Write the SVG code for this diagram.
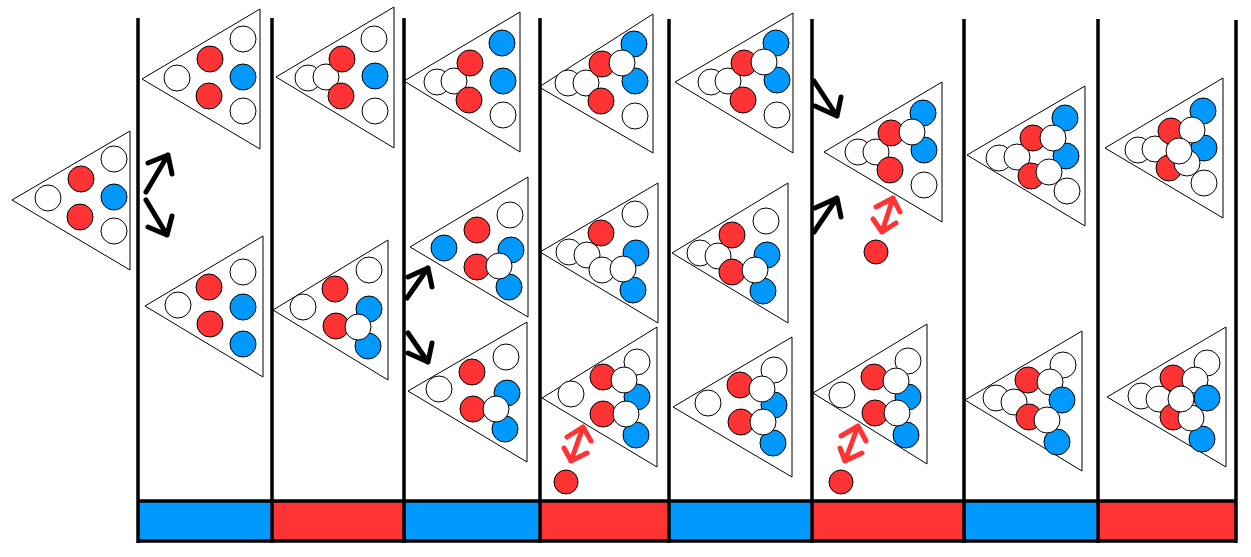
<svg xmlns="http://www.w3.org/2000/svg" width="1251" height="557" viewBox="0 0 1251 557">
<style>
circle{stroke:#000;stroke-width:1}
.r{fill:#ff3333}.b{fill:#0099ff}.w{fill:#fff}
.tri{fill:none;stroke:#000;stroke-width:1}
.col{stroke:#000;stroke-width:3.5;fill:none}
.ka{stroke:#000;stroke-width:5;fill:none;stroke-linecap:round;stroke-linejoin:round}
.ra{stroke:#ff3333;stroke-width:5;fill:none;stroke-linecap:round;stroke-linejoin:round}
</style>
<rect width="1251" height="557" fill="#fff"/>
<g id="bar">
<rect x="138" y="501" width="134" height="40" class="b" style="stroke:none"/>
<rect x="272" y="501" width="132" height="40" class="r" style="stroke:none"/>
<rect x="404" y="501" width="136" height="40" class="b" style="stroke:none"/>
<rect x="540" y="501" width="129" height="40" class="r" style="stroke:none"/>
<rect x="669" y="501" width="143" height="40" class="b" style="stroke:none"/>
<rect x="812" y="501" width="152" height="40" class="r" style="stroke:none"/>
<rect x="964" y="501" width="134" height="40" class="b" style="stroke:none"/>
<rect x="1098" y="501" width="138" height="40" class="r" style="stroke:none"/>
<line class="col" x1="137" y1="501" x2="1237" y2="501"/>
<line class="col" x1="137" y1="541" x2="1237" y2="541"/>
</g>
<g id="columns">
<line class="col" x1="138" y1="18" x2="138" y2="543"/>
<line class="col" x1="272" y1="18" x2="272" y2="543"/>
<line class="col" x1="404" y1="18" x2="404" y2="543"/>
<line class="col" x1="540" y1="18" x2="540" y2="543"/>
<line class="col" x1="669" y1="19" x2="669" y2="543"/>
<line class="col" x1="812" y1="19" x2="812" y2="543"/>
<line class="col" x1="964" y1="19" x2="964" y2="543"/>
<line class="col" x1="1098" y1="19" x2="1098" y2="543"/>
<line class="col" x1="1236" y1="20" x2="1236" y2="543"/>
</g>
<g id="start">
<polygon class="tri" points="12,200 130,131 130,270"/>
<circle class="w" cx="48" cy="198" r="13"/><circle class="r" cx="81" cy="179" r="13"/><circle class="r" cx="80" cy="217" r="13"/>
<circle class="w" cx="114" cy="159" r="13"/><circle class="b" cx="114" cy="197" r="13"/><circle class="w" cx="114" cy="231" r="13"/>
</g>
<g id="c1-top">
<polygon class="tri" points="142,79 260,9 260,149"/>
<circle class="w" cx="177" cy="78" r="13"/><circle class="r" cx="210" cy="59" r="13"/><circle class="r" cx="209" cy="96" r="13"/>
<circle class="w" cx="243" cy="39" r="13"/><circle class="b" cx="243" cy="77" r="13"/><circle class="w" cx="243" cy="111" r="13"/>
</g>
<g id="c1-bottom">
<polygon class="tri" points="145,306 263,236 263,377"/>
<circle class="w" cx="178" cy="305" r="13"/><circle class="r" cx="209" cy="287" r="13"/><circle class="r" cx="210" cy="324" r="13"/>
<circle class="w" cx="243" cy="272" r="13"/><circle class="b" cx="243" cy="307" r="13"/><circle class="b" cx="243" cy="344" r="13"/>
</g>
<g id="c2-top">
<polygon class="tri" points="276,77 394,7 394,148"/>
<circle class="w" cx="308" cy="78" r="13"/><circle class="w" cx="326" cy="77" r="13"/><circle class="r" cx="342" cy="59" r="13"/><circle class="r" cx="341" cy="96" r="13"/>
<circle class="w" cx="374" cy="39" r="13"/><circle class="b" cx="375" cy="76" r="13"/><circle class="w" cx="375" cy="111" r="13"/>
</g>
<g id="c2-bottom">
<polygon class="tri" points="273,310 388,240 388,380"/>
<circle class="w" cx="303" cy="307" r="13"/><circle class="r" cx="335" cy="289" r="13"/><circle class="w" cx="369" cy="270" r="13"/>
<circle class="b" cx="369" cy="309" r="13"/><circle class="r" cx="336" cy="326" r="13"/><circle class="b" cx="368" cy="346" r="13"/><circle class="w" cx="358" cy="327" r="13"/>
</g>
<g id="c3-top">
<polygon class="tri" points="404,81 520,12 520,152"/>
<circle class="w" cx="437" cy="82" r="13"/><circle class="w" cx="454" cy="81" r="13"/><circle class="r" cx="470" cy="63" r="13"/><circle class="r" cx="469" cy="100" r="13"/>
<circle class="b" cx="502" cy="43" r="13"/><circle class="b" cx="503" cy="81" r="13"/><circle class="w" cx="503" cy="115" r="13"/>
</g>
<g id="c3-middle">
<polygon class="tri" points="410,247 528,177 528,317"/>
<circle class="b" cx="444" cy="248" r="13"/><circle class="r" cx="477" cy="230" r="13"/><circle class="w" cx="510" cy="215" r="13"/>
<circle class="b" cx="511" cy="250" r="13"/><circle class="r" cx="477" cy="267" r="13"/><circle class="b" cx="509" cy="287" r="13"/><circle class="w" cx="499" cy="266" r="13"/>
</g>
<g id="c3-bottom">
<polygon class="tri" points="408,391 527,322 527,462"/>
<circle class="w" cx="439" cy="389" r="13"/><circle class="r" cx="472" cy="372" r="13"/><circle class="w" cx="506" cy="357" r="13"/>
<circle class="b" cx="507" cy="393" r="13"/><circle class="r" cx="473" cy="409" r="13"/><circle class="b" cx="505" cy="429" r="13"/><circle class="w" cx="496" cy="409" r="13"/>
</g>
<g id="c4-top">
<polygon class="tri" points="539,87 653,14 653,153"/>
<circle class="w" cx="568" cy="83" r="13"/><circle class="w" cx="586" cy="83" r="13"/><circle class="r" cx="602" cy="64" r="13"/>
<circle class="b" cx="634" cy="44" r="13"/><circle class="b" cx="635" cy="81" r="13"/><circle class="w" cx="622" cy="63" r="13"/>
<circle class="r" cx="601" cy="101" r="13"/><circle class="w" cx="635" cy="116" r="13"/>
</g>
<g id="c4-middle">
<polygon class="tri" points="540,252 658,183 658,323"/>
<circle class="w" cx="569" cy="252" r="13"/><circle class="w" cx="587" cy="255" r="13"/><circle class="r" cx="601" cy="233" r="13"/>
<circle class="w" cx="635" cy="214" r="13"/><circle class="b" cx="636" cy="253" r="13"/><circle class="b" cx="633" cy="290" r="13"/>
<circle class="w" cx="602" cy="270" r="13"/><circle class="w" cx="623" cy="269" r="13"/>
</g>
<g id="c4-bottom">
<polygon class="tri" points="542,398 657,327 657,467"/>
<circle class="w" cx="571" cy="394" r="13"/><circle class="r" cx="603" cy="377" r="13"/><circle class="w" cx="637" cy="362" r="13"/>
<circle class="b" cx="637" cy="397" r="13"/><circle class="w" cx="624" cy="380" r="13"/>
<circle class="r" cx="603" cy="414" r="13"/><circle class="b" cx="636" cy="435" r="13"/><circle class="w" cx="626" cy="414" r="13"/>
</g>
<g id="c4-ball"><circle class="r" cx="566" cy="482" r="12"/></g>
<g id="c5-top">
<polygon class="tri" points="675,82 793,13 793,153"/>
<circle class="w" cx="711" cy="82" r="13"/><circle class="w" cx="728" cy="81" r="13"/><circle class="r" cx="744" cy="63" r="13"/>
<circle class="b" cx="776" cy="43" r="13"/><circle class="b" cx="777" cy="80" r="13"/><circle class="w" cx="764" cy="62" r="13"/>
<circle class="r" cx="743" cy="100" r="13"/><circle class="w" cx="777" cy="115" r="13"/>
</g>
<g id="c5-middle">
<polygon class="tri" points="672,253 788,183 788,323"/>
<circle class="w" cx="700" cy="253" r="13"/><circle class="w" cx="718" cy="256" r="13"/><circle class="r" cx="732" cy="235" r="13"/>
<circle class="w" cx="766" cy="221" r="13"/><circle class="b" cx="767" cy="255" r="13"/><circle class="b" cx="763" cy="291" r="13"/>
<circle class="r" cx="732" cy="272" r="13"/><circle class="w" cx="755" cy="270" r="13"/>
</g>
<g id="c5-bottom">
<polygon class="tri" points="673,407 792,337 792,477"/>
<circle class="w" cx="708" cy="403" r="13"/><circle class="r" cx="740" cy="385" r="13"/><circle class="w" cx="774" cy="370" r="13"/>
<circle class="b" cx="774" cy="405" r="13"/><circle class="w" cx="762" cy="389" r="13"/>
<circle class="r" cx="741" cy="422" r="13"/><circle class="b" cx="773" cy="443" r="13"/><circle class="w" cx="763" cy="422" r="13"/>
</g>
<g id="c6-top">
<polygon class="tri" points="824,152 942,82 942,222"/>
<circle class="w" cx="858" cy="152" r="13"/><circle class="w" cx="876" cy="152" r="13"/><circle class="r" cx="891" cy="133" r="13"/>
<circle class="b" cx="923" cy="113" r="13"/><circle class="b" cx="924" cy="150" r="13"/><circle class="w" cx="912" cy="132" r="13"/>
<circle class="r" cx="890" cy="170" r="13"/><circle class="w" cx="924" cy="185" r="13"/>
</g>
<g id="c6-ball-top"><circle class="r" cx="876" cy="252" r="12"/></g>
<g id="c6-bottom">
<polygon class="tri" points="813,393 927,324 927,464"/>
<circle class="w" cx="842" cy="395" r="13"/><circle class="r" cx="874" cy="377" r="13"/><circle class="w" cx="908" cy="361" r="13"/>
<circle class="b" cx="908" cy="397" r="13"/><circle class="w" cx="896" cy="381" r="13"/>
<circle class="r" cx="875" cy="413" r="13"/><circle class="b" cx="906" cy="435" r="13"/><circle class="w" cx="897" cy="413" r="13"/>
</g>
<g id="c6-ball-bottom"><circle class="r" cx="841" cy="482" r="12"/></g>
<g id="c7-top">
<polygon class="tri" points="967,155 1085,86 1085,226"/>
<circle class="w" cx="999" cy="158" r="13"/><circle class="w" cx="1017" cy="157" r="13"/><circle class="r" cx="1033" cy="138" r="13"/>
<circle class="b" cx="1065" cy="118" r="13"/><circle class="b" cx="1066" cy="156" r="13"/><circle class="w" cx="1053" cy="138" r="13"/>
<circle class="r" cx="1031" cy="176" r="13"/><circle class="w" cx="1049" cy="172" r="13"/><circle class="w" cx="1067" cy="191" r="13"/>
</g>
<g id="c7-bottom">
<polygon class="tri" points="965,400 1082,331 1082,471"/>
<circle class="w" cx="996" cy="398" r="13"/><circle class="w" cx="1014" cy="402" r="13"/><circle class="r" cx="1028" cy="380" r="13"/>
<circle class="w" cx="1063" cy="365" r="13"/><circle class="w" cx="1050" cy="382" r="13"/><circle class="b" cx="1062" cy="400" r="13"/>
<circle class="r" cx="1029" cy="417" r="13"/><circle class="b" cx="1057" cy="442" r="13"/><circle class="w" cx="1047" cy="420" r="13"/>
</g>
<g id="c8-top">
<polygon class="tri" points="1105,148 1223,78 1223,218"/>
<circle class="w" cx="1138" cy="150" r="13"/><circle class="w" cx="1155" cy="149" r="13"/><circle class="r" cx="1171" cy="131" r="13"/>
<circle class="b" cx="1203" cy="111" r="13"/><circle class="b" cx="1204" cy="148" r="13"/><circle class="w" cx="1192" cy="130" r="13"/>
<circle class="r" cx="1169" cy="168" r="13"/><circle class="w" cx="1187" cy="163" r="13"/><circle class="w" cx="1179" cy="151" r="13"/><circle class="w" cx="1204" cy="183" r="13"/>
</g>
<g id="c8-bottom">
<polygon class="tri" points="1107,397 1226,327 1226,467"/>
<circle class="w" cx="1141" cy="396" r="13"/><circle class="w" cx="1159" cy="399" r="13"/><circle class="r" cx="1173" cy="378" r="13"/>
<circle class="w" cx="1207" cy="363" r="13"/><circle class="w" cx="1195" cy="380" r="13"/><circle class="b" cx="1207" cy="398" r="13"/>
<circle class="r" cx="1173" cy="417" r="13"/><circle class="b" cx="1202" cy="439" r="13"/><circle class="w" cx="1191" cy="418" r="13"/><circle class="w" cx="1181" cy="399" r="13"/>
</g>
<g id="connectors">
<path class="ka" d="M146,192 L168,155 M148,163 L168,155 L172,174"/>
<path class="ka" d="M146,200 L167,235 M148,227 L167,235 L172,216"/>
<path class="ka" d="M407,298 L428,268 M408,277 L428,268 L432,287"/>
<path class="ka" d="M408,333 L428,362 M408,353 L428,362 L432,343"/>
<path class="ka" d="M814,81 L837,116 M815,106 L837,116 L841,97"/>
<path class="ka" d="M814,232 L837,198 M815,208 L837,198 L841,217"/>
<path class="ra" d="M583,427 L571,461 M567,437 L583,427 L591,441 M564,448 L571,461 L587,453"/>
<path class="ra" d="M893,198 L882,232 M876,207 L893,198 L900,212 M873,219 L882,232 L896,223"/>
<path class="ra" d="M858,426 L845,461 M841,436 L858,426 L866,441 M840,448 L845,461 L862,453"/>
</g>
</svg>
